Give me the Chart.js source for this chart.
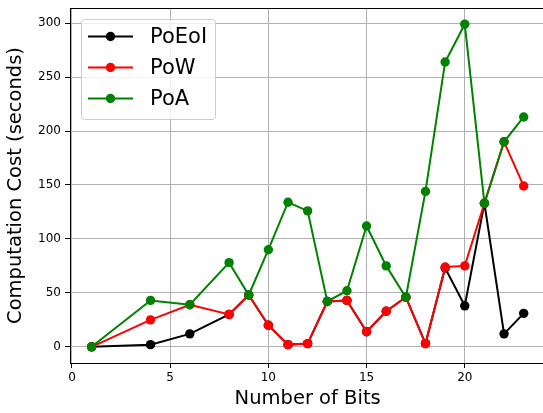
<!DOCTYPE html>
<html lang="en">
<head>
<meta charset="utf-8">
<title>Computation Cost vs Number of Bits</title>
<script src="https://cdn.jsdelivr.net/npm/chart.js"></script>
<style>
  html,body{margin:0;padding:0;background:#fff;overflow:hidden;}
  #frame{position:relative;width:543px;height:413px;overflow:hidden;}
  #myChart{position:absolute;left:0;top:0;}
</style>
</head>
<body>
<div id="frame"><canvas id="myChart" width="550" height="413"></canvas></div>
<script>
/* ── data ─────────────────────────────────────────────── */
const bits   = [1, 4, 6, 8, 9, 10, 11, 12, 13, 14, 15, 16, 17, 18, 19, 20, 21, 22, 23];
const poeoi  = [0, 2, 12, 30, 48, 20, 2, 3, 42, 43, 14, 33, 46, 3, 73, 38, 133, 12, 31];
const powCost= [0, 25, 39, 30, 48, 20, 2, 3, 42, 43, 14, 33, 46, 3, 74, 75, 133, 190, 149];
const poa    = [0, 43, 39, 78, 48, 90, 134, 126, 42, 52, 112, 75, 46, 144, 264, 299, 133, 190, 213];
const xTicks = [0, 5, 10, 15, 20];
const yTicks = [0, 50, 100, 150, 200, 250, 300];

const FONT = "'DejaVu Sans', sans-serif";

function pts(ys){ return bits.map((x,i)=>({x, y:ys[i]})); }

function series(label, ys, colour, order){
  return {
    label, data: pts(ys), order,
    borderColor: colour, backgroundColor: colour,
    borderWidth: 2, pointRadius: 4.7, pointBorderWidth: 0,
    pointBackgroundColor: colour, tension: 0
  };
}

/* legend box inside the plot + top spine */
const boxLegend = {
  id: 'boxLegend',
  afterDraw(chart){
    const ctx = chart.ctx, a = chart.chartArea;
    ctx.save();
    // top spine
    ctx.strokeStyle = '#000'; ctx.lineWidth = 1;
    ctx.beginPath(); ctx.moveTo(a.left, a.top + 0.5); ctx.lineTo(a.right, a.top + 0.5); ctx.stroke();

    const x0 = a.left + 11, y0 = a.top + 11, w = 134, h = 100;
    ctx.fillStyle = 'rgba(255,255,255,0.8)';
    ctx.strokeStyle = '#cccccc';
    ctx.beginPath();
    ctx.roundRect(x0 + 0.5, y0 + 0.5, w, h, 3);
    ctx.fill(); ctx.stroke();

    ctx.font = '21px ' + FONT;
    ctx.textBaseline = 'middle';
    ['PoEoI','PoW','PoA'].forEach((name, i)=>{
      const ds = chart.data.datasets.find(d=>d.label===name);
      const y = y0 + 17.5 + i*31;
      ctx.strokeStyle = ds.borderColor; ctx.lineWidth = 2;
      ctx.beginPath(); ctx.moveTo(x0 + 7, y); ctx.lineTo(x0 + 52, y); ctx.stroke();
      ctx.fillStyle = ds.borderColor;
      ctx.beginPath(); ctx.arc(x0 + 29.5, y, 4.7, 0, Math.PI*2); ctx.fill();
      ctx.fillStyle = '#000';
      ctx.fillText(name, x0 + 69, y + 1);
    });
    ctx.restore();
  }
};

new Chart(document.getElementById('myChart'), {
  type: 'line',
  data: {
    datasets: [
      series('PoEoI', poeoi, '#000000', 2),
      series('PoW', powCost, '#ff0000', 1),
      series('PoA', poa, '#008000', 0)
    ]
  },
  options: {
    responsive: false,
    animation: false,
    layout: { padding: { top: 8, right: 1, left: 0, bottom: 0 } },
    plugins: { legend: { display: false }, tooltip: { enabled: false } },
    scales: {
      x: {
        type: 'linear', min: -0.1, max: 24.1,
        afterFit: s => { s.height = 50; s.paddingLeft = 0; s.paddingRight = 0; },
        afterBuildTicks: s => { s.ticks = xTicks.map(v=>({value:v})); },
        grid: { color: '#b0b0b0', lineWidth: 1, tickColor: '#000', tickLength: 5 },
        border: { color: '#000', width: 1 },
        ticks: { color: '#000', font: { family: FONT, size: 12 }, padding: 3, maxRotation: 0 },
        title: { display: true, text: 'Number of Bits', color: '#000',
                 font: { family: FONT, size: 19.5 }, padding: { top: 2, bottom: 2 } }
      },
      y: {
        min: -15, max: 314,
        afterFit: s => { s.width = 70; s.paddingTop = 0; s.paddingBottom = 0; },
        afterBuildTicks: s => { s.ticks = yTicks.map(v=>({value:v})); },
        grid: { color: '#b0b0b0', lineWidth: 1, tickColor: '#000', tickLength: 5 },
        border: { color: '#000', width: 1 },
        ticks: { color: '#000', font: { family: FONT, size: 12 }, padding: 4 },
        title: { display: true, text: 'Computation Cost (seconds)', color: '#000',
                 font: { family: FONT, size: 19.5 }, padding: { top: 4, bottom: 0 } }
      }
    }
  },
  plugins: [boxLegend]
});
</script>
</body>
</html>
